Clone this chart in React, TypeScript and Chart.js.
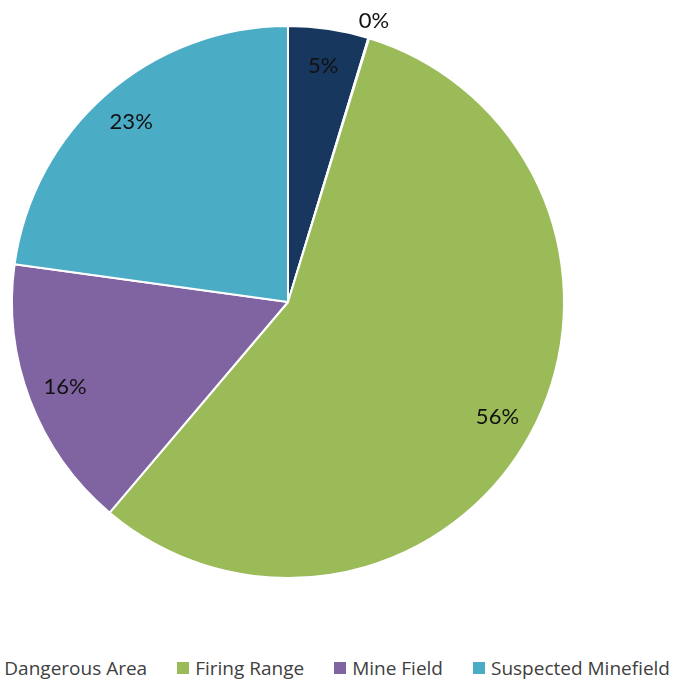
import React, { useEffect, useRef } from "react";
import { Chart, registerables } from "chart.js";

Chart.register(...registerables);

const categories = ["Other", "Dangerous Area", "Firing Range", "Mine Field", "Suspected Minefield"];
const shares = [4.7, 0.05, 56.4, 16.0, 22.8];
const sliceColors = ["#17375E", "#C0504D", "#9BBB59", "#8064A2", "#4BACC6"];

const labelPlugin = {
  id: "pctLabels",
  afterDatasetsDraw(chart: any) {
    const { ctx } = chart;
    const meta = chart.getDatasetMeta(0);
    const data = chart.data.datasets[0].data as number[];
    const total = data.reduce((a: number, b: number) => a + b, 0);
    ctx.save();
    ctx.font = "22px Lato, 'Open Sans', sans-serif";
    ctx.fillStyle = "#111111";
    ctx.textAlign = "center";
    ctx.textBaseline = "middle";
    meta.data.forEach((arc: any, i: number) => {
      const p = arc.getProps(["x", "y", "startAngle", "endAngle", "outerRadius"], true);
      const mid = (p.startAngle + p.endAngle) / 2;
      const pct = Math.round((data[i] / total) * 100);
      const r = pct === 0 ? p.outerRadius * 1.065 : p.outerRadius * 0.865;
      const x = p.x + Math.cos(mid) * r;
      const y = p.y + Math.sin(mid) * r;
      ctx.fillText(pct + "%", x, y);
    });
    ctx.restore();
  },
};

export default function App() {
  const ref = useRef<HTMLCanvasElement>(null);
  useEffect(() => {
    if (!ref.current) return;
    const chart = new Chart(ref.current, {
      type: "pie",
      data: {
        labels: categories,
        datasets: [
          {
            data: shares,
            backgroundColor: sliceColors,
            borderColor: "#ffffff",
            borderWidth: 2,
          },
        ],
      },
      options: {
        responsive: false,
        animation: false,
        layout: { padding: { left: 11, top: 25, right: 108, bottom: 61 } },
        plugins: { legend: { display: false }, tooltip: { enabled: false } },
      },
      plugins: [labelPlugin],
    });
    return () => chart.destroy();
  }, []);

  return (
    <div
      style={{
        position: "fixed",
        left: 0,
        top: 0,
        width: 673,
        height: 681,
        overflow: "hidden",
        background: "#ffffff",
      }}
    >
      <canvas ref={ref} width={673} height={640} style={{ position: "absolute", left: 0, top: 0 }} />
      <div
        style={{
          position: "absolute",
          right: 3,
          top: 656,
          display: "flex",
          justifyContent: "flex-end",
          whiteSpace: "nowrap",
          fontFamily: "'Open Sans', sans-serif",
          fontSize: 19,
          color: "#404040",
          lineHeight: "24px",
        }}
      >
        {categories.map((c, i) => (
          <div key={c} style={{ display: "flex", alignItems: "center", marginLeft: i === 0 ? 0 : 30 }}>
            <span
              style={{
                display: "inline-block",
                width: 12,
                height: 12,
                background: sliceColors[i],
                marginRight: 6,
              }}
            />
            <span>{c}</span>
          </div>
        ))}
      </div>
    </div>
  );
}
